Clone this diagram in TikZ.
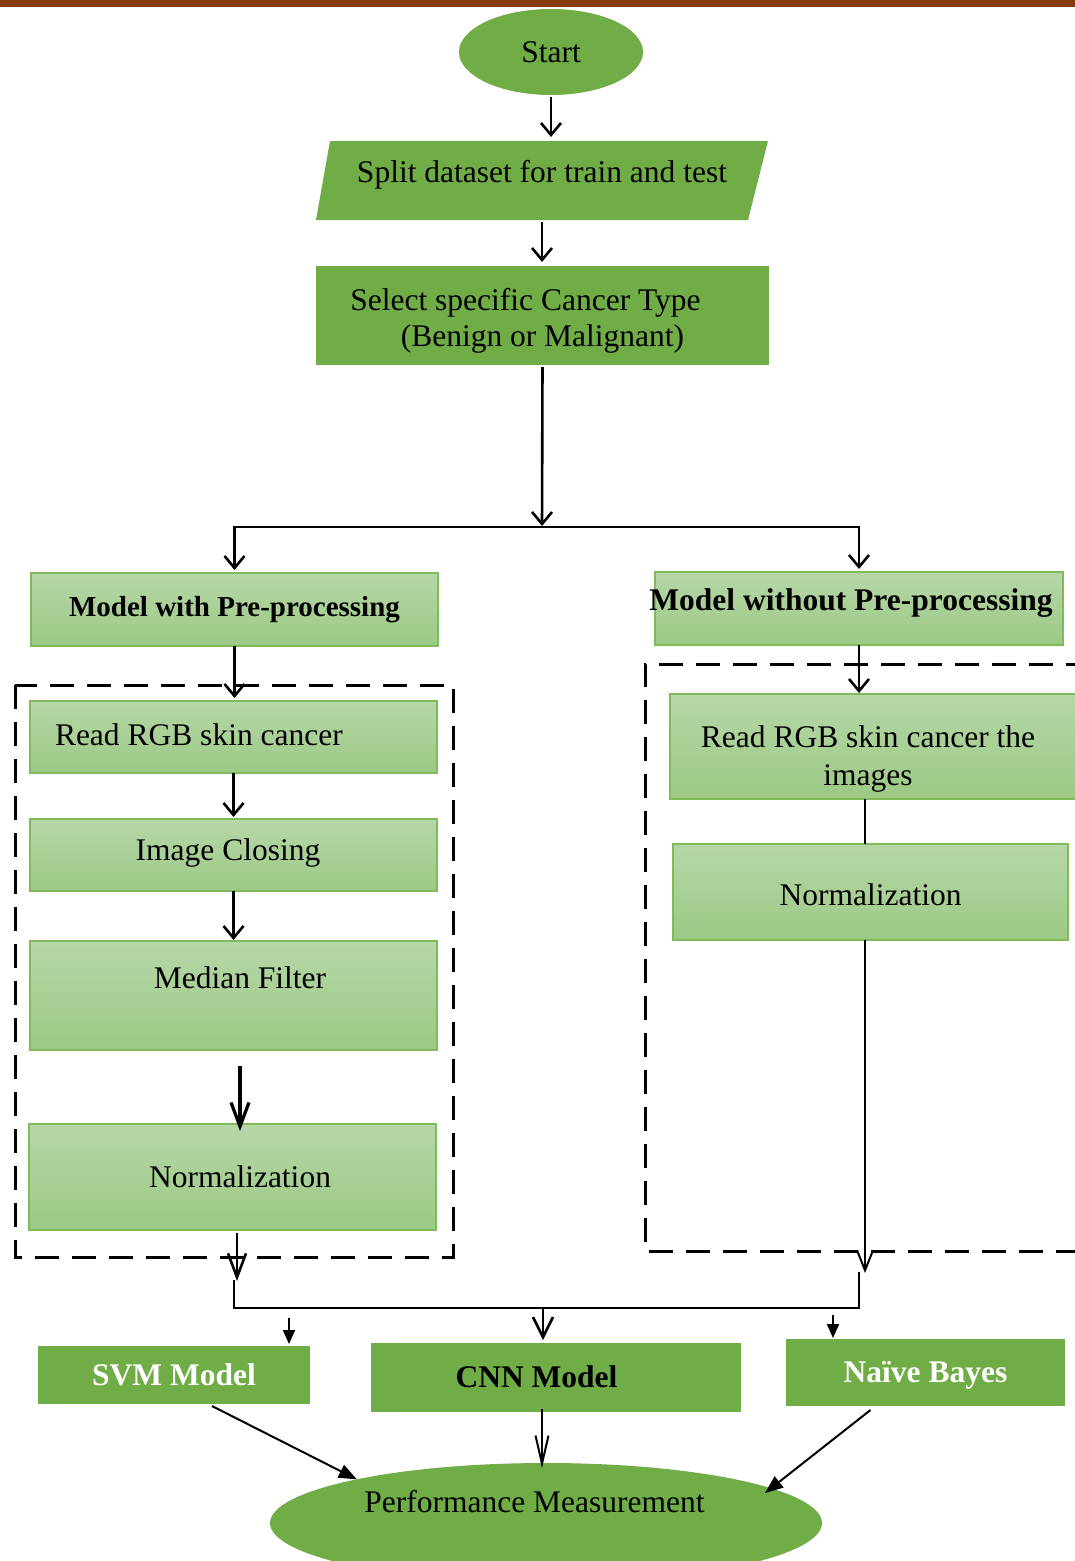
\documentclass[tikz,border=0pt]{standalone}
\usepackage{fontspec}
\setmainfont{Liberation Serif}
\usetikzlibrary{arrows.meta,shapes.geometric,calc}
\definecolor{gdark}{HTML}{70AD47}
\definecolor{glight}{HTML}{B6D7A8}
\definecolor{glow}{HTML}{9CC984}
\definecolor{gborder}{HTML}{7FBB5B}
\definecolor{brownbar}{HTML}{843C0C}
% two centred lines, lowered inside their box
\newcommand{\twolines}[4]{\raisebox{#1}[\height][\depth]{\begin{tabular}{@{}c@{}}#2\\[#3]#4\end{tabular}}}

\begin{document}
\begin{tikzpicture}[x=1pt,y=-1pt,
  every node/.style={inner sep=0pt, outer sep=0pt},
  txt/.style={font=\fontsize{31.5}{36}\selectfont},
  boldtxt/.style={font=\fontsize{31.5}{36}\selectfont\bfseries},
  solidbox/.style={txt, rectangle, fill=gdark},
  softbox/.style={txt, rectangle, draw=gborder, line width=1.3pt, top color=glight, bottom color=glow},
  oval/.style={txt, ellipse, fill=gdark},
  oneline/.style={text height=20pt, text depth=#1},
  oneline/.default=0pt,
  dashbox/.style={line width=3pt, dash pattern=on 24pt off 13pt},
  link/.style={line width=2.6pt},
  thinlink/.style={line width=2pt},
  vee/.style={link, -{Straight Barb[length=12pt,width=20pt]}},
  veebig/.style={line width=3.2pt, -{Straight Barb[length=24pt,width=18pt]}},
  veelong/.style={link, -{Straight Barb[length=24pt,width=18pt]}},
  veemid/.style={link, -{Straight Barb[length=20pt,width=20pt]}},
  thinvee/.style={thinlink, -{Straight Barb[length=20pt,width=16pt]}},
  narrowvee/.style={thinlink, -{Straight Barb[length=28pt,width=13pt]}},
  smalltri/.style={thinlink, -{Triangle[length=14pt,width=12pt]}},
  tri/.style={thinlink, -{Triangle[length=18pt,width=14pt]}}
]
\useasboundingbox (0,0) rectangle (1075,1561);
\clip (0,0) rectangle (1075,1561);

% top band
\fill[brownbar] (0,0) rectangle (1075,7);

% dashed groups
\draw[dashbox] (15,685) rectangle (453,1257);
\draw[dashbox] (1090,664) -- (645,664) -- (645,1251) -- (1090,1251);

% start and data preparation
\node[oval, minimum width=184pt, minimum height=86pt, oneline] (start) at (551,52) {Start};
\fill[gdark] (330,141) -- (768,141) -- (748,220) -- (316,220) -- cycle;
\node[txt, minimum width=420pt, minimum height=79pt, oneline=17pt] (split) at (542,180.5) {Split dataset for train and test};
\node[solidbox, minimum width=453pt, minimum height=99pt] (select) at (542.5,315.5)
  {\twolines{-6pt}{Select specific Cancer Type\rule{34pt}{0pt}}{0pt}{(Benign or Malignant)}};

% branch with pre-processing
\node[softbox, minimum width=407pt, minimum height=73pt, oneline=7pt,
  font=\fontsize{29}{34}\selectfont\bfseries] (mwith) at (234.5,609.5) {Model with Pre-processing};
\node[softbox, minimum width=407pt, minimum height=72pt, oneline=4pt] (read1) at (233.5,737)
  {\makebox[357pt][l]{Read RGB skin cancer}};
\node[softbox, minimum width=407pt, minimum height=72pt, oneline=10pt] (closing) at (233.5,855)
  {Image Closing\rule{11pt}{0pt}};
\node[softbox, minimum width=407pt, minimum height=109pt, oneline=35pt] (median) at (233.5,995.5)
  {\rule{13pt}{0pt}Median Filter};
\node[softbox, minimum width=407pt, minimum height=106pt, oneline] (norm1) at (232.5,1177)
  {\rule{15pt}{0pt}Normalization};

% branch without pre-processing
\node[softbox, boldtxt, minimum width=408pt, minimum height=73pt, oneline=17pt] (mwithout) at (859,608.5)
  {\makebox[0pt]{Model without Pre-processing}\rule{16pt}{0pt}};
\node[softbox, minimum width=412pt, minimum height=105pt] (read2) at (876,746.5)
  {\twolines{-13pt}{Read RGB skin cancer the\rule{16pt}{0pt}}{2pt}{images\rule{16pt}{0pt}}};
\node[softbox, minimum width=395pt, minimum height=96pt, text height=26pt, text depth=0pt] (norm2) at (870.5,892)
  {Normalization};

% classifiers and evaluation
\node[solidbox, boldtxt, minimum width=272pt, minimum height=58pt, oneline, text=white] (svm) at (174,1375) {SVM Model};
\node[solidbox, boldtxt, minimum width=370pt, minimum height=69pt, oneline] (cnn) at (555.5,1377.5) {CNN Model\rule{38pt}{0pt}};
\node[solidbox, boldtxt, minimum width=279pt, minimum height=67pt, oneline, text=white] (nb) at (925.5,1372.5) {Naïve Bayes};
\node[oval, minimum width=552pt, minimum height=120pt, oneline=42pt] (perf) at (546,1523)
  {Performance Measurement\rule{23pt}{0pt}};

% main flow
\draw[vee, shorten <=2pt, shorten >=4pt] (start.south) -- (start.south |- split.north);
\draw[vee, shorten <=2pt, shorten >=4pt] (split.south) -- (split.south |- select.north);
\coordinate (fork) at (542,527);
\draw[vee, shorten <=2pt, shorten >=1pt] (select.south) -- (fork);
\draw[link, line cap=rect] (fork -| mwith.north) -- (fork -| mwithout.north);
\draw[vee, shorten >=3pt] (fork -| mwith.north) -- (mwith.north);
\draw[vee, shorten >=3pt] (fork -| mwithout.north) -- (mwithout.north);

% pre-processing chain
\draw[vee, shorten >=3pt] (mwith.south) -- (mwith.south |- read1.north);
\draw[vee, shorten >=2pt] (read1.south) -- (read1.south |- closing.north);
\draw[vee, shorten >=1pt] (closing.south) -- (closing.south |- median.north);
\draw[veebig, shorten <=16pt, shorten >=-7pt] ($(median.south)+(6.5,0)$) -- ($(median.south |- norm1.north)+(6.5,0)$);

% plain chain
\coordinate (rdrop) at (865,1273);
\draw[vee, shorten >=1pt] (mwithout.south) -- (mwithout.south |- read2.north);
\draw[thinlink] (read2.south -| rdrop) -- (norm2.north -| rdrop);
\draw[thinvee] (norm2.south -| rdrop) -- (rdrop);

% merge towards the classifiers
\coordinate (ldrop) at (237,1281);
\coordinate (mL) at (234,1308);
\coordinate (mM) at (543,1308);
\coordinate (mR) at (859,1308);
\draw[veelong, shorten <=3pt] (norm1.south -| ldrop) -- (ldrop);
\draw[link, line cap=rect] (mL |- ldrop) -- (mL) -- (mR) -- (mR |- rdrop);
\coordinate (svmin) at (289,1318);
\coordinate (nbin) at (833,1315);
\draw[smalltri, shorten >=2pt] (svmin) -- (svmin |- svm.north);
\draw[veemid, shorten >=3pt] (mM) -- (mM |- cnn.north);
\draw[smalltri, shorten >=1pt] (nbin) -- (nbin |- nb.north);

% evaluation
\draw[tri] ($(svm.south)+(38,2)$) -- (perf.167);
\draw[narrowvee] ($(cnn.south)+(-13.5,-3)$) -- ($(cnn.south |- perf.north)+(-13.5,5)$);
\draw[tri] ($(nb.south)+(-55,4)$) -- ($(perf.center)+(219,-30)$);
\end{tikzpicture}
\end{document}
